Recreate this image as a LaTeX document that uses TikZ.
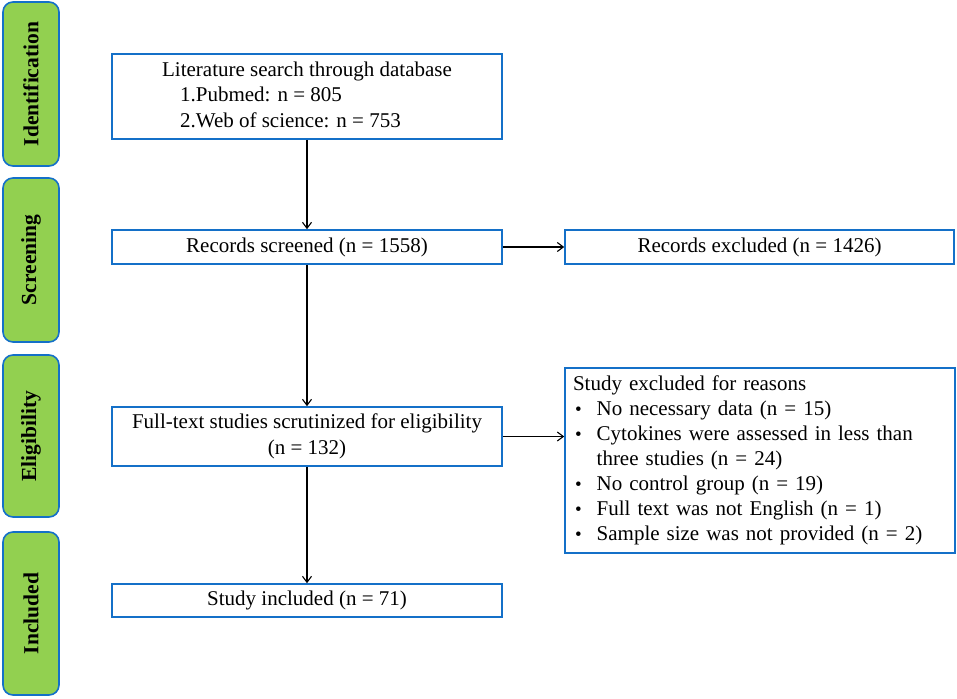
\documentclass[tikz,border=0pt]{standalone}
\usepackage{fontspec}
\setmainfont{Liberation Serif}
\usetikzlibrary{arrows.meta}
\definecolor{boxblue}{RGB}{20,112,200}
\definecolor{stagegreen}{RGB}{146,208,80}
\newcommand{\bul}{\hspace*{2pt}\raisebox{0.5pt}{\fontsize{19}{19}\selectfont\textbullet}}
\begin{document}
\begin{tikzpicture}[x=1pt,y=-1pt,
  every node/.style={font=\fontsize{21}{25.5}\selectfont},
  flowbox/.style={draw=boxblue, line width=1.6pt, minimum width=390pt, inner sep=0pt, align=center},
  stage/.style={draw=boxblue, fill=stagegreen, line width=1.6pt, rounded corners=10pt, minimum width=56pt, inner sep=0pt, font=\fontsize{21.5}{25}\selectfont\bfseries, rotate=90},
  flowarrow/.style={draw=black, line width=1.1pt, -{Straight Barb[length=6pt,width=9pt]}}
]
\useasboundingbox (0,0) rectangle (957,698);

% stage labels
\node[stage, minimum width=164pt, minimum height=56pt] (ident) at (31,84) {Identification};
\node[stage, minimum width=164pt, minimum height=56pt] (screen) at (31,260) {Screening};
\node[stage, minimum width=162pt, minimum height=56pt] (elig) at (31,436) {Eligibility};
\node[stage, minimum width=163pt, minimum height=56pt] (incl) at (31,613.5) {Included};

% main boxes
\node[flowbox, minimum height=85pt] (search) at (307,96.5) {%
\begin{tabular}{@{}l@{}}
\multicolumn{1}{@{}c@{}}{Literature search through database}\\
\hspace*{18pt}1.Pubmed: n = 805\\
\hspace*{18pt}2.Web of science: n = 753
\end{tabular}};
\node[flowbox, minimum height=34pt] (screened) at (307,247) {Records screened (n = 1558)};
\node[flowbox, minimum height=59pt] (fulltext) at (307,436.5) {Full-text studies scrutinized for eligibility\\(n = 132)};
\node[flowbox, minimum height=33pt] (included) at (307,600.5) {Study included (n = 71)};

% exclusion boxes
\node[flowbox, minimum width=389pt, minimum height=34pt] (excl1) at (759.5,247) {Records excluded (n = 1426)};
\node[draw=boxblue, line width=1.6pt, minimum width=390pt, minimum height=185pt, inner xsep=8pt, inner ysep=0pt, text width=374pt, align=left, font=\fontsize{21}{25}\selectfont] (excl2) at (760,460.5) {%
\begin{tabular}{@{}l@{\hspace{15pt}}l@{}}
\multicolumn{2}{@{}l@{}}{Study excluded for reasons}\\
\bul & No necessary data (n = 15)\\
\bul & Cytokines were assessed in less than\\
 & three studies (n = 24)\\
\bul & No control group (n = 19)\\
\bul & Full text was not English (n = 1)\\
\bul & Sample size was not provided (n = 2)
\end{tabular}};

% connectors
\draw[flowarrow] (search.south) -- (screened.north);
\draw[flowarrow] (screened.south) -- (fulltext.north);
\draw[flowarrow] (fulltext.south) -- (included.north);
\draw[flowarrow] (screened.east) -- (screened.east -| excl1.west);
\draw[flowarrow] (fulltext.east) -- (fulltext.east -| excl2.west);
\end{tikzpicture}
\end{document}
